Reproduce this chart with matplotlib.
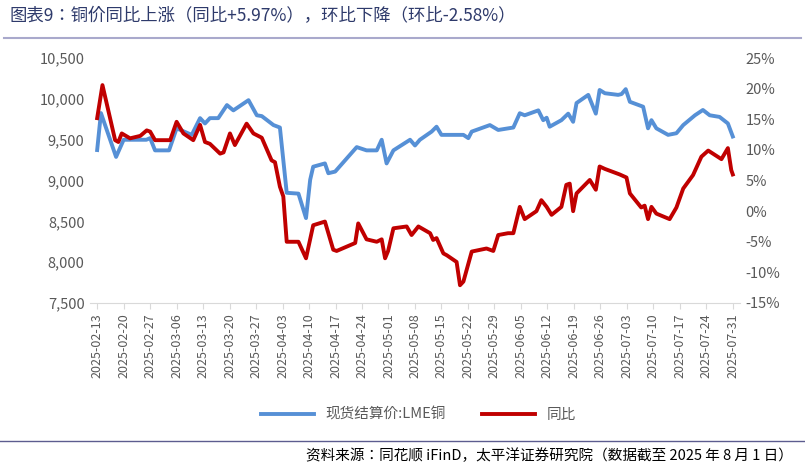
import matplotlib
matplotlib.use("Agg")
import matplotlib.pyplot as plt
from matplotlib import font_manager
import numpy as np
import pandas as pd

names = sorted({f.name for f in font_manager.fontManager.ttflist})
cjk = [n for n in names if "CJK" in n and "SC" in n] or [n for n in names if "CJK" in n]
if not cjk:
    for p in font_manager.findSystemFonts():
        if "CJK" in p or "cjk" in p.lower():
            try:
                font_manager.fontManager.addfont(p)
            except Exception:
                pass
    names = sorted({f.name for f in font_manager.fontManager.ttflist})
    cjk = [n for n in names if "CJK" in n and "SC" in n] or [n for n in names if "CJK" in n]
plt.rcParams["font.family"] = (cjk[:1] if cjk else []) + ["DejaVu Sans"]

start = pd.Timestamp("2025-02-13")
lme_days = [0, 1, 5, 7, 13, 14, 15.3, 19, 21, 25, 27.2, 28.5, 29.8, 32, 34.3, 36, 40, 42.2, 43.5, 46.6,
            48.3, 50.1, 53.2, 55.2, 56.3, 57.1, 60.2, 61.1, 62.9, 68.6, 71.2, 73.9, 75.2, 76.5, 78.3, 82.7,
            84, 85.3, 88.4, 89.7, 91, 96.8, 98.1, 99, 103.8, 106, 110, 111.7, 113, 116.6, 117.9, 118.8,
            119.6, 122.7, 124.5, 125.8, 126.7, 129.8, 131.8, 132.8, 134.2, 137.7, 138.6, 139.7, 140.8,
            144.3, 145.6, 146.5, 147.8, 150.9, 153.1, 154.9, 158, 160.1, 161.9, 164.5, 166.7, 168]
lme_vals = [9374, 9827, 9290, 9500, 9500, 9520, 9370, 9370, 9640, 9560, 9765, 9700, 9765, 9765, 9925, 9860,
            9985, 9800, 9790, 9680, 9650, 8850, 8840, 8540, 9010, 9170, 9210, 9090, 9110, 9410, 9370, 9370,
            9500, 9210, 9370, 9500, 9430, 9500, 9600, 9660, 9560, 9560, 9520, 9600, 9680, 9620, 9650, 9825,
            9800, 9860, 9740, 9770, 9660, 9740, 9820, 9720, 9950, 10050, 9820, 10110, 10070, 10050, 10060,
            10120, 9965, 9905, 9640, 9740, 9640, 9560, 9580, 9680, 9800, 9865, 9800, 9780, 9700, 9540]

yoy_days = [0, 1.4, 4.75, 5.6, 6.5, 8.7, 11.4, 13.1, 14, 15.3, 19.3, 21, 22.8, 25.4, 27.2, 28.5, 29.8,
            32.5, 33.4, 35.1, 36.4, 39.5, 41.3, 43.5, 46.1, 47, 48.3, 49.2, 50.1, 53.2, 55.2, 57.1, 60.2,
            62.4, 63.3, 68.2, 69, 71.2, 73.9, 75.2, 76.1, 76.9, 78.3, 81.8, 83.1, 84.9, 88, 88.8, 89.7,
            91.5, 92.4, 95, 95.9, 96.8, 99, 102.9, 104.7, 106, 108.6, 110, 111.7, 113, 116.1, 117.4, 118.8,
            120.1, 122.7, 124, 124.9, 125.8, 126.7, 130.2, 131.8, 132.8, 134.2, 138.1, 139.9, 140.8, 143.8,
            144.7, 145.6, 146.5, 147.8, 151.3, 153.1, 154.9, 157.5, 159.7, 161.5, 165, 166.7, 167.6, 168]
yoy_vals = [15.2, 20.6, 11.6, 11.3, 12.7, 11.9, 12.3, 13.2, 13.0, 11.6, 11.6, 14.6, 12.7, 11.6, 14.1, 11.3,
            11.0, 9.4, 9.6, 12.7, 10.8, 14.3, 12.7, 12.0, 8.3, 8.0, 4.0, 2.4, -5.0, -5.0, -7.7, -2.3, -1.7,
            -6.3, -6.5, -5.2, -2.0, -4.6, -5.0, -4.6, -7.7, -6.5, -2.8, -2.5, -3.9, -2.5, -3.6, -4.7, -4.4,
            -6.9, -7.2, -8.3, -12.1, -11.5, -6.6, -6.1, -6.5, -3.9, -3.6, -3.6, 0.7, -1.3, 0.0, 1.8, 0.7,
            -0.6, 0.7, 4.3, 4.5, 0.0, 2.9, 5.1, 3.5, 7.3, 6.9, 6.0, 5.5, 2.9, 0.6, 0.9, -1.3, 0.7, -0.4,
            -1.3, 0.6, 3.7, 5.9, 8.9, 9.9, 8.5, 10.3, 6.7, 6.0]

xticks = pd.date_range("2025-02-13", "2025-07-31", freq="7D")

lme_dates = start + pd.to_timedelta(lme_days, unit="D")
yoy_dates = start + pd.to_timedelta(yoy_days, unit="D")

fig = plt.figure(figsize=(8.05, 4.69), dpi=100)
ax = fig.add_axes([0.112, 0.354, 0.807, 0.522])
ax2 = ax.twinx()

blue = "#5690D6"
red = "#C00000"
l1, = ax.plot(lme_dates, lme_vals, color=blue, lw=2.8, label="现货结算价:LME铜", zorder=3)
l2, = ax2.plot(yoy_dates, yoy_vals, color=red, lw=2.8, label="同比", zorder=3)

ax.set_ylim(7500, 10500)
ax.set_yticks(np.arange(7500, 10501, 500))
ax.yaxis.set_major_formatter(matplotlib.ticker.FuncFormatter(lambda v, p: f"{int(v):,}"))
ax2.set_ylim(-15, 25)
ax2.set_yticks(np.arange(-15, 26, 5))
ax2.yaxis.set_major_formatter(matplotlib.ticker.FuncFormatter(lambda v, p: f"{int(v)}%"))

ax.set_xlim(start - pd.Timedelta(days=1.85), start + pd.Timedelta(days=169.85))
ax.set_xticks(xticks)
ax.set_xticklabels([d.strftime("%Y-%m-%d") for d in xticks], rotation=90)

tc = "#595959"
for a in (ax, ax2):
    for s in a.spines.values():
        s.set_visible(False)
    a.tick_params(axis="y", length=0, labelsize=10.5, colors=tc, pad=4)
ax.spines["bottom"].set_visible(True)
ax.spines["bottom"].set_color("#D9D9D9")
ax.tick_params(axis="x", labelsize=9, colors=tc, length=4, color="#D9D9D9")

leg = fig.legend(handles=[l1, l2], loc="center", bbox_to_anchor=(0.52, 1 - 415 / 469), ncol=2,
                 frameon=False, fontsize=10.5, labelcolor=tc, handlelength=3.6, columnspacing=2.5)

fig.text(0.012, 1 - 16 / 469, "图表9：铜价同比上涨（同比+5.97%），环比下降（环比-2.58%）",
         fontsize=12.5, color="#2E3A6B", va="center", ha="left")
fig.add_artist(plt.Line2D([0.005, 0.995], [1 - 38 / 469] * 2, color="#A9A9CC", lw=1.5))
fig.add_artist(plt.Line2D([0.0, 1.0], [1 - 441 / 469] * 2, color="#5C5C8F", lw=1.0))
fig.text(0.985, 1 - 456 / 469, "资料来源：同花顺 iFinD，太平洋证券研究院（数据截至 2025 年 8 月 1 日）",
         fontsize=10.5, color="black", va="center", ha="right", style="italic")

fig.savefig("out.png", dpi=100)
